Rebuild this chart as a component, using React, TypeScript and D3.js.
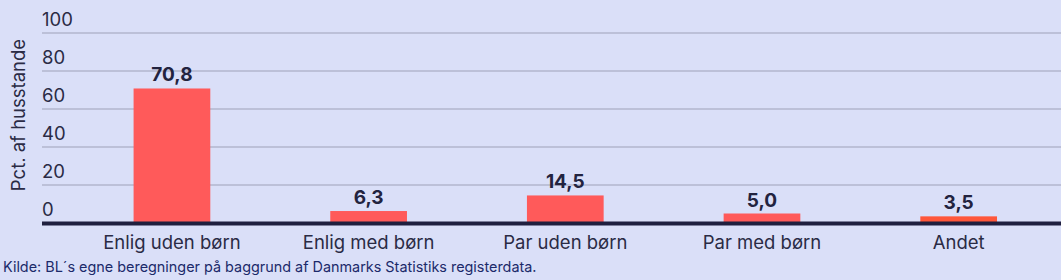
import React from "react";
import * as d3 from "d3";

const categories = ["Enlig uden børn", "Enlig med børn", "Par uden børn", "Par med børn", "Andet"];
const values = [70.8, 6.3, 14.5, 5.0, 3.5];
const barColors = ["#ff5a5a", "#ff5a5a", "#ff5a5a", "#ff5a5a", "#ff573b"];
const yTicks = [0, 20, 40, 60, 80, 100];
const yTitle = "Pct. af husstande";
const source = "Kilde: BL´s egne beregninger på baggrund af Danmarks Statistiks registerdata.";

const W = 1061;
const H = 280;
const FONT = "Inter, 'Noto Sans', sans-serif";

export default function App() {
  const y = d3.scaleLinear().domain([0, 100]).range([223, 33]);
  const x = d3
    .scaleBand<string>()
    .domain(categories)
    .range([73.6, 1057])
    .paddingInner(0.61)
    .paddingOuter(0.305);
  const fmt = (v: number) => d3.format(".1f")(v).replace(".", ",");

  return (
    <svg
      width={W}
      height={H}
      style={{ position: "absolute", left: 0, top: 0, background: "#dadff8" }}
    >
      <rect x={0} y={0} width={W} height={H} fill="#dadff8" />
      {yTicks.map((t) => (
        <g key={t}>
          {t > 0 && (
            <line x1={42} x2={W} y1={y(t)} y2={y(t)} stroke="#bcc0d8" strokeWidth={2} />
          )}
          <text
            x={42}
            y={y(t) - 7}
            fontFamily={FONT}
            fontSize={18.5}
            fill="#2a2b45"
          >
            {t}
          </text>
        </g>
      ))}
      <text
        transform={`translate(25, ${y(50) - 13}) rotate(-90)`}
        textAnchor="middle"
        fontFamily={FONT}
        fontSize={18.5}
        fill="#2a2b45"
      >
        {yTitle}
      </text>
      {categories.map((c, i) => (
        <g key={c}>
          <rect
            x={x(c)}
            y={y(values[i])}
            width={x.bandwidth()}
            height={y(0) - y(values[i])}
            fill={barColors[i]}
          />
          <text
            x={(x(c) as number) + x.bandwidth() / 2}
            y={y(values[i]) - 7}
            textAnchor="middle"
            fontFamily={FONT}
            fontWeight={700}
            fontSize={19}
            fill="#22233f"
          >
            {fmt(values[i])}
          </text>
          <text
            x={(x(c) as number) + x.bandwidth() / 2}
            y={249}
            textAnchor="middle"
            fontFamily={FONT}
            fontSize={18.5}
            fill="#2a2b45"
          >
            {c}
          </text>
        </g>
      ))}
      <line x1={42} x2={W} y1={y(0) + 0.5} y2={y(0) + 0.5} stroke="#1f1f3f" strokeWidth={4} />
      <text x={3} y={272} fontFamily={FONT} fontSize={14.4} fill="#1c2a6a">
        {source}
      </text>
    </svg>
  );
}
